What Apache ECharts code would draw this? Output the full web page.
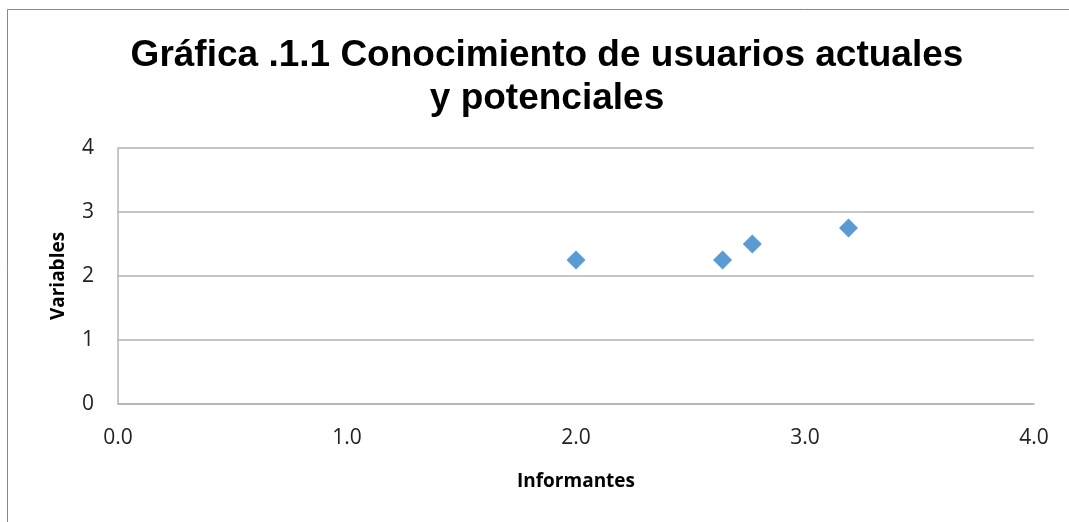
<!DOCTYPE html>
<html><head><meta charset="utf-8">
<script src="https://cdn.jsdelivr.net/npm/echarts@6/dist/echarts.min.js"></script>
<style>html,body{margin:0;padding:0;background:#fff}#c{width:1069px;height:522px}</style>
</head><body><div id="c"></div>
<script>
const titleText = 'Gráfica .1.1 Conocimiento de usuarios actuales\ny potenciales';
const xName = 'Informantes';
const yName = 'Variables';
const xValues = [2.0, 2.64, 2.77, 3.19];
const yValues = [2.25, 2.25, 2.5, 2.75];
const xTicks = [0, 1, 2, 3, 4];
const yTicks = [0, 1, 2, 3, 4];

const chart = echarts.init(document.getElementById('c'));
chart.setOption({
  animation: false,
  title: {
    text: titleText, left: 542, top: 29, textAlign: 'center',
    textStyle: {fontFamily: 'Liberation Sans', fontWeight: 'bold', fontSize: 37, lineHeight: 43, color: '#000'}
  },
  graphic: [
    {type: 'line', shape: {x1: 7.5, y1: 9.5, x2: 1069, y2: 9.5}, style: {stroke: '#888', lineWidth: 1}, silent: true},
    {type: 'line', shape: {x1: 7.5, y1: 9.5, x2: 7.5, y2: 522}, style: {stroke: '#888', lineWidth: 1}, silent: true}
  ],
  grid: {left: 118, right: 35, top: 148, bottom: 118},
  xAxis: {
    type: 'value', min: xTicks[0], max: xTicks[xTicks.length - 1], interval: 1,
    name: xName, nameLocation: 'middle', nameGap: 68,
    nameTextStyle: {fontFamily: 'Open Sans', fontWeight: 'bold', fontSize: 19, color: '#000'},
    axisLine: {show: true, lineStyle: {color: '#b3b3b3', width: 1.5}},
    axisTick: {show: false},
    splitLine: {show: false},
    axisLabel: {margin: 24, fontFamily: 'Open Sans', fontSize: 21, color: '#222', formatter: v => v.toFixed(1)}
  },
  yAxis: {
    type: 'value', min: yTicks[0], max: yTicks[yTicks.length - 1], interval: 1,
    name: yName, nameLocation: 'middle', nameGap: 50, nameRotate: 90,
    nameTextStyle: {fontFamily: 'Open Sans', fontWeight: 'bold', fontSize: 19, color: '#000'},
    axisLine: {show: true, lineStyle: {color: '#b3b3b3', width: 1.5}},
    axisTick: {show: false},
    splitLine: {show: true, lineStyle: {color: '#b3b3b3', width: 1.5}},
    axisLabel: {margin: 24, fontFamily: 'Open Sans', fontSize: 21, color: '#222'}
  },
  series: [{
    type: 'scatter', symbol: 'diamond', symbolSize: 19,
    itemStyle: {color: '#5b9bd5', opacity: 1},
    data: xValues.map((x, i) => [x, yValues[i]])
  }]
});
</script></body></html>
